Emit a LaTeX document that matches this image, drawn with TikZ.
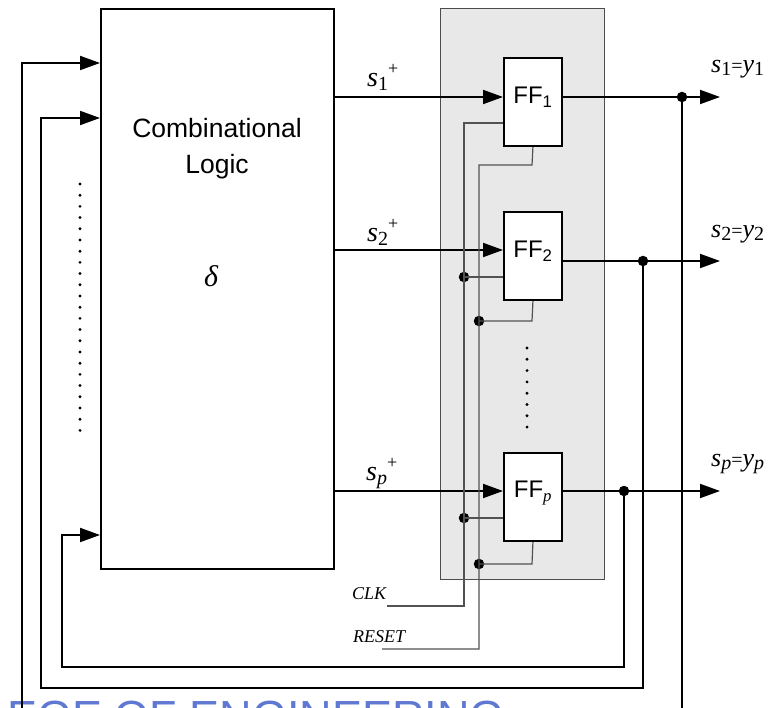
\documentclass[tikz,border=0pt]{standalone}
\usepackage{fontspec}
\setmainfont{Liberation Serif}
\setsansfont{Liberation Sans}
\usetikzlibrary{arrows.meta,calc}
\definecolor{panel}{HTML}{E8E8E8}
\definecolor{wmark}{RGB}{95,120,210}
\newcommand{\splus}[1]{\textit{s}\raisebox{-4pt}{\fontsize{20}{20}\selectfont #1}\raisebox{12pt}{\fontsize{18}{18}\selectfont +}}
\newcommand{\seqy}[1]{\textit{s}\raisebox{-3pt}{\fontsize{20}{20}\selectfont #1}{\fontsize{20}{20}\selectfont =}\textit{y}\raisebox{-3pt}{\fontsize{20}{20}\selectfont #1}}
\begin{document}
\begin{tikzpicture}[x=1pt,y=-1pt,
  wire/.style={line width=1.9pt},
  gwire/.style={line width=1.2pt, draw=black!68},
  arr/.style={wire,-{Triangle[length=20pt,width=14pt]}},
  ffbox/.style={draw, line width=1.9pt, fill=white, minimum width=58pt, minimum height=88pt, anchor=north west, inner sep=0pt},
  fflbl/.style={font=\sffamily\fontsize{24}{24}\selectfont, inner sep=0pt},
  junc/.style={circle, fill=black, inner sep=0pt, minimum size=10.5pt},
  sl/.style={font=\fontsize{28}{28}\selectfont, inner sep=0pt, anchor=base west},
  yl/.style={font=\fontsize{26}{26}\selectfont, inner sep=0pt, anchor=base west},
  sigl/.style={font=\itshape\fontsize{18}{18}\selectfont, inner sep=0pt, anchor=base west},
]
\useasboundingbox (0,0) rectangle (774,708);
\begin{scope}
\clip (0,0) rectangle (774,708);

% watermark (cut off at the lower edge, as in the reference)
\node[anchor=base west, inner sep=0pt, text=wmark, font=\sffamily\fontsize{45}{45}\selectfont] (wm) at (7,732) {EGE OF ENGINEERING};

% combinational logic block
\node[draw, line width=1.9pt, minimum width=233pt, minimum height=560pt, anchor=north west, inner sep=0pt] (cl) at (100,8) {};
\node[font=\sffamily\fontsize{26.5}{26.5}\selectfont, anchor=base, inner sep=0pt] (t1) at (217,138) {Combinational};
\node[font=\sffamily\fontsize{26.5}{26.5}\selectfont, anchor=base, inner sep=0pt] (t2) at (217,174) {Logic};
\node[font=\itshape\fontsize{30}{30}\selectfont, inner sep=0pt, anchor=base] (delta) at (211,287) {δ};

% register panel
\node[draw=black!70, line width=1.4pt, fill=panel, minimum width=164pt, minimum height=571pt, anchor=north west, inner sep=0pt] (panel) at (440,8) {};

% flip-flops
\node[ffbox] (ff1) at (503,57) {};
\node[ffbox] (ff2) at (503,211) {};
\node[ffbox] (ffp) at (503,452) {};
\node[fflbl] at ($(ff1.center)+(0,-5)$) {FF\textsubscript{1}};
\node[fflbl] at ($(ff2.center)+(0,-5)$) {FF\textsubscript{2}};
\node[fflbl] at ($(ffp.center)+(0,-4)$) {FF\textsubscript{\rmfamily\itshape p}};

% coordinates
\coordinate (i1) at (ff1.west |- 0,97);
\coordinate (i2) at (ff2.west |- 0,250);
\coordinate (ip) at (ffp.west |- 0,491);
\coordinate (o1) at (ff1.east |- 0,97);
\coordinate (o2) at (ff2.east |- 0,261);
\coordinate (op) at (ffp.east |- 0,491);
\coordinate (e1) at (720,97);
\coordinate (e2) at (720,261);
\coordinate (ep) at (720,491);

% next-state inputs
\draw[arr] (cl.east |- i1) -- (i1);
\draw[arr] (cl.east |- i2) -- (i2);
\draw[arr] (cl.east |- ip) -- (ip);
\node[sl] (ls1) at (367,87) {\splus{1}};
\node[sl] (ls2) at (367,242) {\splus{2}};
\node[sl] (lsp) at (366,480) {\splus{\itshape p}};

% outputs
\draw[arr] (o1) -- (e1);
\draw[arr] (o2) -- (e2);
\draw[arr] (op) -- (ep);
\node[junc] (j1) at (682,97) {};
\node[junc] (j2) at (643,261) {};
\node[junc] (jp) at (624,491) {};
\node[yl] (ly1) at (711,73) {\seqy{1}};
\node[yl] (ly2) at (711,238) {\seqy{2}};
\node[yl] (lyp) at (711,467) {\seqy{\itshape p}};

% feedback loops
\draw[wire] (j1.center) -- (682,715);
\draw[arr] (22,715) -- (22,63) -- (cl.west |- 0,63);
\draw[arr] (j2.center) -- (643,688) -- (41,688) -- (41,118) -- (cl.west |- 0,118);
\draw[arr] (jp.center) -- (624,667) -- (62,667) -- (62,535) -- (cl.west |- 0,535);

% clock and reset network
\node[sigl] (clk) at (352,599) {CLK};
\node[sigl] (rst) at (353,642) {RESET};
\node[junc] (c2) at (464,277) {};
\node[junc] (cp) at (464,518) {};
\node[junc] (r2) at (479,321) {};
\node[junc] (rp) at (479,564) {};
\draw[gwire] (387,606) -- (464,606) -- (464,123) -- (ff1.west |- 0,123);
\draw[gwire] (c2.center) -- (ff2.west |- c2);
\draw[gwire] (cp.center) -- (ffp.west |- cp);
\draw[gwire] (382,649) -- (479,649) -- (479,165) -- (532,165) -- (ff1.south);
\draw[gwire] (r2.center) -- (532,321) -- (ff2.south);
\draw[gwire] (rp.center) -- (532,564) -- (ffp.south);

% ellipsis dots
\foreach \k in {0,...,22} \fill (80,184+11.2*\k) circle (1.6pt);
\foreach \k in {0,...,7} \fill (527,348+11.3*\k) circle (1.6pt);
\end{scope}
\end{tikzpicture}
\end{document}
